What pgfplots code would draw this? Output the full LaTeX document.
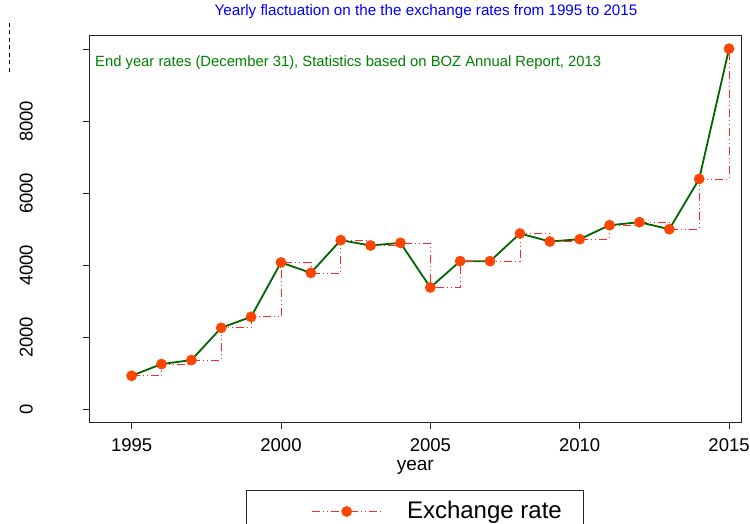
\documentclass[border=0pt]{standalone}
\usepackage{fontspec}
\setmainfont{Liberation Sans}
\usepackage{pgfplots}
\usepackage{pgfplotstable}
\pgfplotsset{compat=1.18}
\definecolor{lineg}{RGB}{0,100,0}
\definecolor{noteg}{RGB}{0,128,0}
\definecolor{mk}{RGB}{255,69,0}
\definecolor{ttl}{RGB}{0,0,255}
\pgfplotstableread{
year rate
1995 932
1996 1257
1997 1368
1998 2264
1999 2569
2000 4079
2001 3790
2002 4698
2003 4550
2004 4623
2005 3385
2006 4115
2007 4115
2008 4883
2009 4661
2010 4725
2011 5114
2012 5197
2013 5003
2014 6398
2015 10017
}\datatable
\begin{document}
\begin{tikzpicture}
\begin{axis}[
  scale only axis, width=651.5bp, height=386.5bp,
  xmin=1993.59, xmax=2015.40, ymin=-352, ymax=10383,
  scaled x ticks=false, scaled y ticks=false,
  xtick={1995,2000,2005,2010,2015},
  xticklabels={1995,2000,2005,2010,2015},
  ytick={0,2000,4000,6000,8000,10000},
  yticklabels={0,2000,4000,6000,8000,{}},
  /pgf/number format/assume math mode=true,
  tick align=outside, major tick length=7bp,
  xtick pos=lower, ytick pos=left,
  axis line style={black!85, line width=0.9bp},
  tick style={black!85, line width=0.9bp},
  ticklabel style={font=\fontsize{18.5bp}{22bp}\selectfont},
  yticklabel style={rotate=90, anchor=south, inner sep=0pt, yshift=49.5bp},
  xticklabel style={inner sep=0pt, yshift=-9bp},
  xlabel={year},
  xlabel style={font=\fontsize{19bp}{22bp}\selectfont, at={(axis description cs:0.5,-0.1164)}, anchor=center, inner sep=0pt},
  title={Yearly flactuation on the the exchange rates from 1995 to 2015},
  title style={font=\fontsize{15.2bp}{18bp}\selectfont, text=ttl, at={(axis description cs:0.5165,1.0453)}, anchor=center, inner sep=0pt},
  legend image code/.code={
    \path[draw=none, fill=none] (-65bp,0bp) (70bp,0bp);
    \draw[mark repeat=2, mark phase=2, #1] plot coordinates {(0bp,0bp) (35bp,0bp) (70bp,0bp)};
  },
  legend style={at={(axis description cs:0.5,-0.176)}, anchor=north,
    draw=black!85, line width=0.9bp, inner xsep=0pt, inner ysep=0pt,
    font=\fontsize{24bp}{28bp}\selectfont,
    nodes={inner sep=0pt, text height=28bp, text depth=14bp},
    /tikz/every even column/.append style={column sep=0pt}},
  clip=false,
]
\addplot[lineg, line width=1.8bp, forget plot] table[x=year,y=rate]{\datatable};
\addplot[red!85, line width=0.7bp, dash pattern=on 8bp off 3bp on 1bp off 3bp on 1bp off 3bp, const plot,
  mark=*, mark size=5bp, mark options={solid, fill=mk, draw=mk}] table[x=year,y=rate]{\datatable};
\addlegendentry{\kern25bp Exchange rate\kern22bp}
\node[anchor=west, text=noteg, font=\fontsize{14.8bp}{18bp}\selectfont, inner sep=0pt] at (axis description cs:0.0084,0.929) {End year rates (December 31), Statistics based on BOZ Annual Report, 2013};
\end{axis}
\draw[black, line width=0.9bp, dash pattern=on 4bp off 3.5bp] (-80.5bp,399bp) -- (-80.5bp,350bp);
\pgfresetboundingbox
\useasboundingbox (-89.5bp,-102bp) rectangle (660.5bp,422bp);
\end{tikzpicture}
\end{document}
